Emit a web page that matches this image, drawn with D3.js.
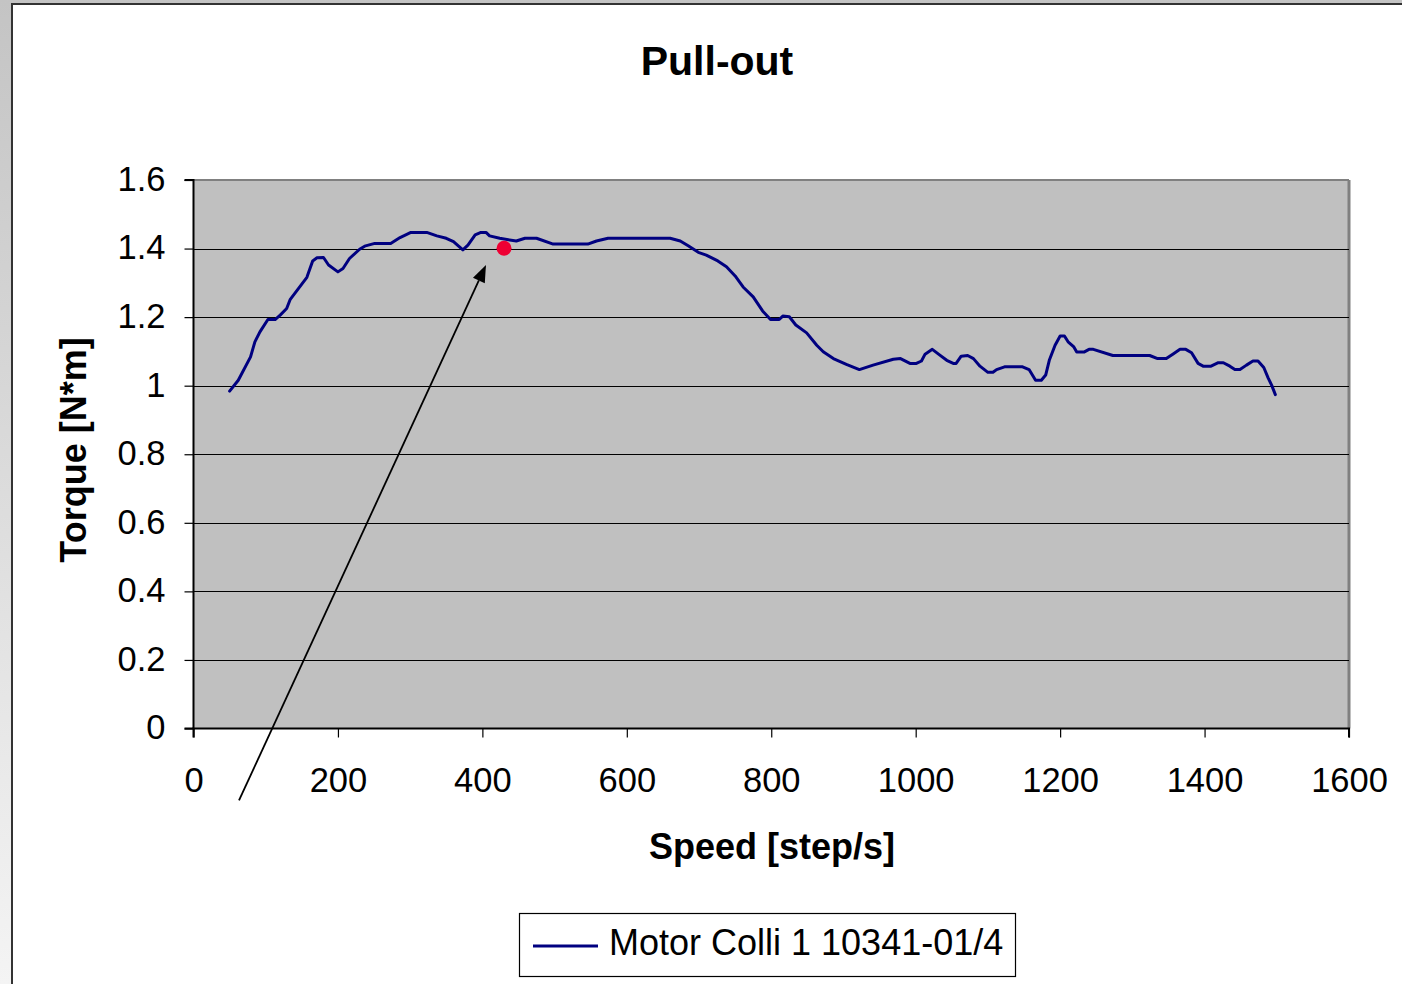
<!DOCTYPE html>
<html><head><meta charset="utf-8">
<script src="https://cdn.jsdelivr.net/npm/d3@7"></script>
<style>html,body{margin:0;padding:0;overflow:hidden;background:#fff}</style>
</head><body>
<svg id="c" width="1402" height="984"></svg>
<script>
const title = "Pull-out";
const xLabel = "Speed [step/s]";
const yLabel = "Torque [N*m]";
const seriesName = "Motor Colli 1 10341-01/4";
const xTicks = [0,200,400,600,800,1000,1200,1400,1600];
const yTicks = [0,0.2,0.4,0.6,0.8,1,1.2,1.4,1.6];
const speed = [50,62,79,85,92,103,113,120,129,134,157,165,171,180,187,200,207,216,230,237,251,273,286,301,323,337,350,360,373,380,390,398,405,410,424,447,459,475,498,546,558,574,660,674,685,699,710,726,738,750,761,775,788,799,811,816,825,834,849,863,872,886,904,922,941,969,979,992,1001,1008,1013,1023,1033,1043,1052,1056,1063,1072,1080,1089,1100,1107,1112,1123,1148,1157,1166,1174,1180,1185,1193,1200,1206,1211,1219,1223,1233,1240,1246,1273,1324,1335,1347,1356,1366,1374,1382,1391,1398,1409,1419,1426,1435,1442,1449,1458,1467,1474,1482,1488,1493,1498];
const torque = [0.984,1.016,1.084,1.128,1.157,1.193,1.193,1.206,1.225,1.252,1.316,1.364,1.373,1.374,1.352,1.332,1.342,1.371,1.398,1.407,1.415,1.415,1.432,1.447,1.447,1.437,1.43,1.42,1.396,1.41,1.44,1.447,1.447,1.437,1.43,1.422,1.43,1.43,1.413,1.413,1.422,1.43,1.43,1.422,1.408,1.389,1.381,1.364,1.347,1.32,1.288,1.259,1.218,1.193,1.193,1.203,1.201,1.177,1.154,1.118,1.099,1.079,1.062,1.047,1.06,1.077,1.079,1.065,1.065,1.072,1.092,1.106,1.09,1.074,1.065,1.065,1.086,1.088,1.079,1.057,1.039,1.039,1.047,1.055,1.055,1.047,1.016,1.016,1.031,1.074,1.118,1.145,1.145,1.128,1.113,1.098,1.098,1.106,1.106,1.088,1.088,1.079,1.079,1.092,1.106,1.106,1.096,1.065,1.057,1.057,1.067,1.067,1.057,1.047,1.047,1.06,1.072,1.072,1.053,1.023,1.001,0.974];
const marker = [430, 1.401];
const arrowFrom = [63, -0.21];
const arrowTo = [405, 1.352];

const svg = d3.select("#c");
const defs = svg.append("defs");
const g1 = defs.append("linearGradient").attr("id","bg").attr("x1",0).attr("y1",0).attr("x2",0).attr("y2",1);
g1.append("stop").attr("offset","0%").attr("stop-color","#c4c4c4");
g1.append("stop").attr("offset","100%").attr("stop-color","#f4f4f4");
svg.append("rect").attr("width",1402).attr("height",984).attr("fill","url(#bg)");
svg.append("rect").attr("x",12).attr("y",4).attr("width",1420).attr("height",1000).attr("fill","#fff").attr("stroke","#333").attr("stroke-width",2);

const x = d3.scaleLinear().domain([0,1600]).range([193.5,1349]);
const y = d3.scaleLinear().domain([0,1.6]).range([728.5,180]);
const font = "Liberation Sans, Arial, sans-serif";

// plot area
svg.append("rect").attr("x",x(0)).attr("y",y(1.6)).attr("width",x(1600)-x(0)).attr("height",y(0)-y(1.6)).attr("fill","#c0c0c0");
svg.append("line").attr("x1",x(0)).attr("x2",x(1600)).attr("y1",y(1.6)).attr("y2",y(1.6)).attr("stroke","#808080").attr("stroke-width",2);
svg.append("line").attr("x1",x(1600)).attr("x2",x(1600)).attr("y1",y(1.6)).attr("y2",y(0)).attr("stroke","#808080").attr("stroke-width",3);

// grid
svg.append("g").selectAll("line").data(yTicks.filter(d=>d>0 && d<1.6)).join("line")
  .attr("x1",x(0)).attr("x2",x(1600)).attr("y1",d=>Math.round(y(d))+0.5).attr("y2",d=>Math.round(y(d))+0.5)
  .attr("stroke","#000").attr("stroke-width",1.2);

// axes
const yAxis = d3.axisLeft(y).tickValues(yTicks).tickSize(9).tickPadding(19).tickFormat(d3.format("~g"));
const ya = svg.append("g").attr("transform",`translate(${x(0)},0)`).call(yAxis);
const xAxis = d3.axisBottom(x).tickValues(xTicks).tickSize(9).tickPadding(30).tickFormat(d3.format("d"));
const xa = svg.append("g").attr("transform",`translate(0,${y(0)})`).call(xAxis);
[ya,xa].forEach(a=>{
  a.select(".domain").attr("stroke","#000").attr("stroke-width",2);
  a.selectAll(".tick line").attr("stroke","#000").attr("stroke-width",1.2);
  a.selectAll(".tick text").attr("font-family",font).attr("font-size",34.5).attr("fill","#000");
});
ya.select(".domain").attr("d",`M-9,${y(1.6)}H0V${y(0)}H-9`);
xa.select(".domain").attr("d",`M${x(0)},9V0H${x(1600)}V9`);
ya.selectAll(".tick text").attr("dy","0.3em");

// line
const line = d3.line().x((d,i)=>x(speed[i])).y(d=>y(d)).curve(d3.curveLinear);
svg.append("path").attr("d",line(torque)).attr("fill","none").attr("stroke","#000080").attr("stroke-width",3).attr("stroke-linejoin","round").attr("stroke-linecap","round");

// marker
svg.append("circle").attr("cx",x(marker[0])).attr("cy",y(marker[1])).attr("r",7.5).attr("fill","#ee0033");

// arrow
const ax1=x(arrowFrom[0]), ay1=y(arrowFrom[1]), ax2=x(arrowTo[0]), ay2=y(arrowTo[1]);
const ang = Math.atan2(ay2-ay1, ax2-ax1);
const L=17, W=6.5;
const bx = ax2 - L*Math.cos(ang), by = ay2 - L*Math.sin(ang);
svg.append("line").attr("x1",ax1).attr("y1",ay1).attr("x2",bx).attr("y2",by).attr("stroke","#000").attr("stroke-width",1.8);
svg.append("path").attr("d",`M${ax2},${ay2}L${bx - W*Math.sin(ang)},${by + W*Math.cos(ang)}L${bx + W*Math.sin(ang)},${by - W*Math.cos(ang)}Z`).attr("fill","#000");

// titles
svg.append("text").attr("x",717).attr("y",75).attr("text-anchor","middle").attr("font-family",font).attr("font-weight","bold").attr("font-size",41).text(title);
svg.append("text").attr("x",772).attr("y",859).attr("text-anchor","middle").attr("font-family",font).attr("font-weight","bold").attr("font-size",36).text(xLabel);
svg.append("text").attr("transform","translate(86,450) rotate(-90)").attr("text-anchor","middle").attr("font-family",font).attr("font-weight","bold").attr("font-size",36).text(yLabel);

// legend
const lg = svg.append("g");
lg.append("rect").attr("x",519.5).attr("y",913.5).attr("width",496).attr("height",63).attr("fill","#fff").attr("stroke","#000").attr("stroke-width",1.2);
lg.append("line").attr("x1",533).attr("x2",598).attr("y1",946).attr("y2",946).attr("stroke","#000080").attr("stroke-width",3);
lg.append("text").attr("x",609).attr("y",955).attr("font-family",font).attr("font-size",36).text(seriesName);
</script>
</body></html>
